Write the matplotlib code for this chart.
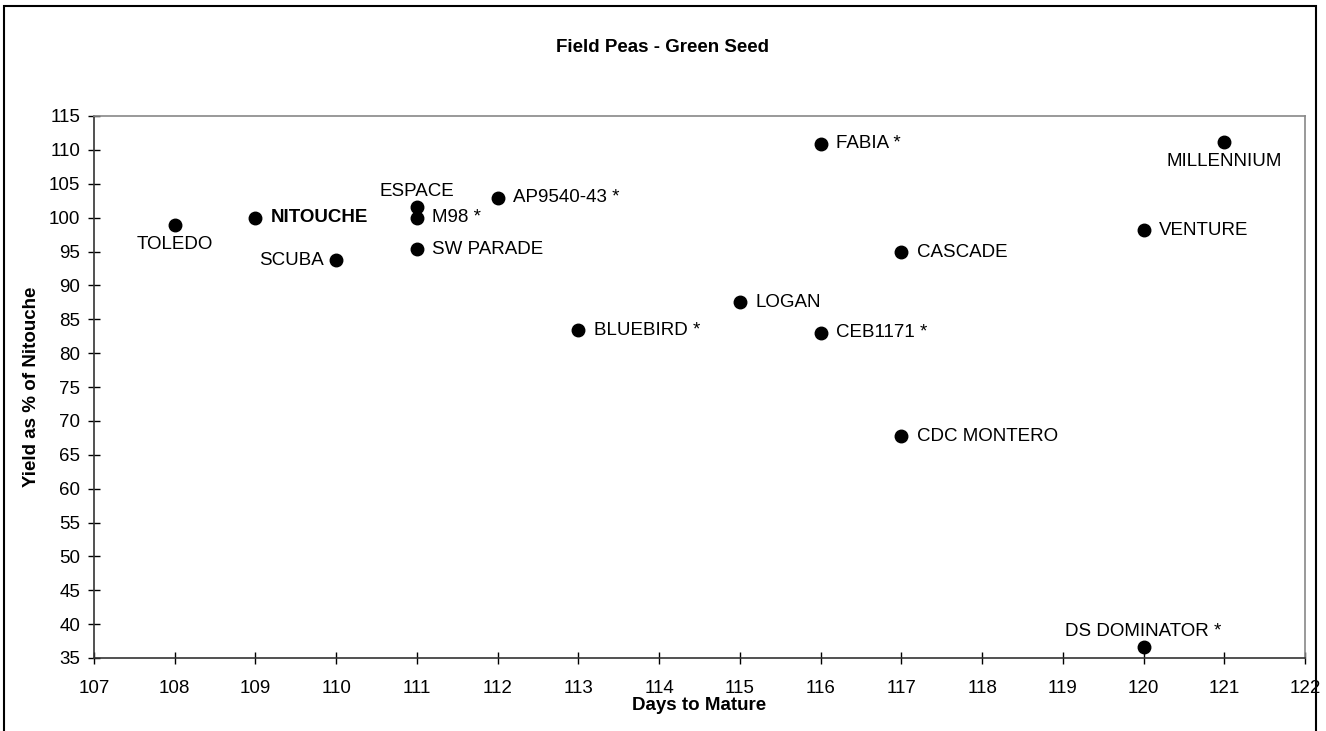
import matplotlib
matplotlib.use("Agg")
import matplotlib.pyplot as plt
from matplotlib.patches import Rectangle

plt.rcParams['font.family'] = ['Liberation Sans', 'DejaVu Sans']

varieties = ["TOLEDO", "NITOUCHE", "ESPACE", "M98 *", "AP9540-43 *", "SW PARADE",
             "SCUBA", "BLUEBIRD *", "LOGAN", "FABIA *", "CASCADE", "CEB1171 *",
             "CDC MONTERO", "MILLENNIUM", "VENTURE", "DS DOMINATOR *"]
days = [108, 109, 111, 111, 112, 111, 110, 113, 115, 116, 117, 116, 117, 121, 120, 120]
yield_pct = [98.9, 100.0, 101.6, 100.0, 102.9, 95.3, 93.7, 83.4, 87.5, 110.9, 94.9, 83.0,
             67.7, 111.2, 98.1, 36.6]
# label placement: 'r' right, 'b' below, 't' above, 'l' left
placement = ['b', 'r', 't', 'r', 'r', 'r', 'l', 'r', 'r', 'r', 'r', 'r', 'r', 'b', 'r', 't']

FS = 13.5

fig = plt.figure(figsize=(13.26, 7.31), dpi=100)
ax = fig.add_axes([94/1326, 1-658/731, (1305-94)/1326, (658-116)/731])

ax.plot(days, yield_pct, 'o', color='black', ms=9, clip_on=False, zorder=5)

for name, x, y, p in zip(varieties, days, yield_pct, placement):
    weight = 'bold' if name == "NITOUCHE" else 'normal'
    kw = dict(fontsize=FS, fontweight=weight, textcoords='offset points')
    if p == 'r':
        ax.annotate(name, (x, y), xytext=(11, 0), ha='left', va='center', **kw)
    elif p == 'l':
        ax.annotate(name, (x, y), xytext=(-9, 0), ha='right', va='center', **kw)
    elif p == 'b':
        ax.annotate(name, (x, y), xytext=(0, -8), ha='center', va='top', **kw)
    else:
        ax.annotate(name, (x, y), xytext=(0, 5), ha='center', va='bottom', **kw)

ax.set_xlim(107, 122)
ax.set_ylim(35, 115)
ax.set_xticks(range(107, 123))
ax.set_yticks(range(35, 116, 5))
ax.tick_params(direction='inout', length=8, width=1, labelsize=FS, colors='black', pad=6)
ax.tick_params(axis='x', pad=12)

for s in ['left', 'bottom']:
    ax.spines[s].set_color('#333333')
    ax.spines[s].set_linewidth(1.2)
for s in ['top', 'right']:
    ax.spines[s].set_color('#888888')
    ax.spines[s].set_linewidth(1.2)

ax.set_xlabel("Days to Mature", fontsize=FS, fontweight='bold', labelpad=0)
ax.set_ylabel("Yield as % of Nitouche", fontsize=FS, fontweight='bold', labelpad=6)
fig.text(0.5, 1-48/731, "Field Peas - Green Seed", ha='center', va='center',
         fontsize=FS, fontweight='bold')

# outer chart border (open at the bottom)
fig.add_artist(Rectangle((4/1326, -0.05), (1316-4)/1326, 1.05-6/731,
                         transform=fig.transFigure, fill=False, edgecolor='black',
                         linewidth=1.5))

fig.savefig("out.png", dpi=100)
